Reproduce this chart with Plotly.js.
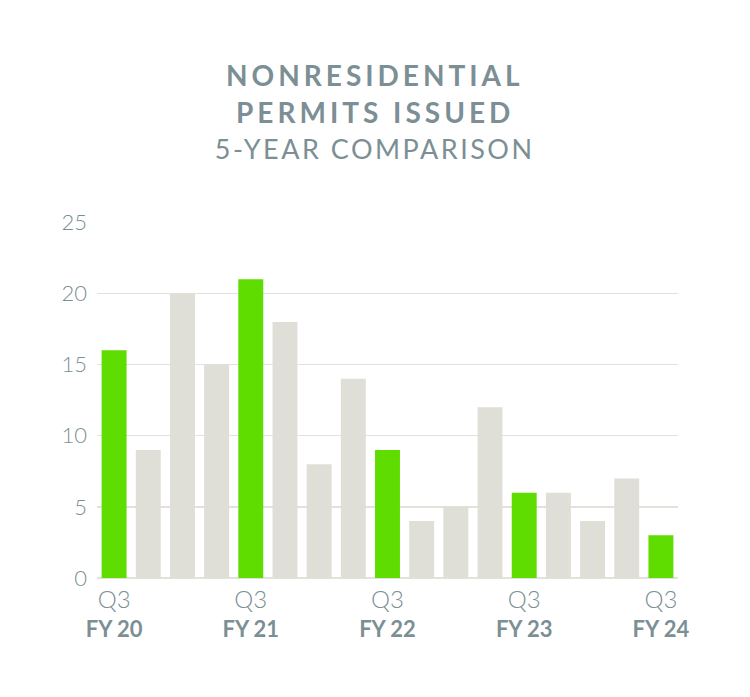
<!DOCTYPE html>
<html>
<head>
<meta charset="utf-8">
<script src="https://cdn.plot.ly/plotly-3.0.1.min.js"></script>
<style>html,body{margin:0;padding:0;background:#fff;}#chart{width:750px;height:697px;}</style>
</head>
<body>
<div id="chart"></div>
<script>
const quarters = ["Q3 FY20","Q4 FY20","Q1 FY21","Q2 FY21","Q3 FY21","Q4 FY21","Q1 FY22","Q2 FY22","Q3 FY22","Q4 FY22","Q1 FY23","Q2 FY23","Q3 FY23","Q4 FY23","Q1 FY24","Q2 FY24","Q3 FY24"];
const permits = [16, 9, 20, 15, 21, 18, 8, 14, 9, 4, 5, 12, 6, 6, 4, 7, 3];
const tickQuarters = ["Q3 FY20","Q3 FY21","Q3 FY22","Q3 FY23","Q3 FY24"];
const tickLabels = ["Q3<br><b>FY 20</b>","Q3<br><b>FY 21</b>","Q3<br><b>FY 22</b>","Q3<br><b>FY 23</b>","Q3<br><b>FY 24</b>"];
const titleLine1 = "NONRESIDENTIAL";
const titleLine2 = "PERMITS ISSUED";
const subtitle = "5-YEAR COMPARISON";

const GREEN = "#5fdc00", GRAY = "#dfdfd7", TEXT = "#7b8f94";
const colors = quarters.map(q => q.startsWith("Q3") ? GREEN : GRAY);

const trace = {
  type: "bar",
  x: quarters,
  y: permits,
  marker: {color: colors},
  hoverinfo: "x+y"
};

const FONT = "Lato, 'Open Sans', sans-serif";
const layout = {
  width: 750, height: 697,
  margin: {l: 97, r: 72, t: 222, b: 119},
  paper_bgcolor: "#ffffff",
  plot_bgcolor: "#ffffff",
  bargap: 0.27,
  showlegend: false,
  font: {family: FONT, color: TEXT},
  xaxis: {
    type: "category",
    tickmode: "array",
    tickvals: tickQuarters,
    ticktext: tickLabels.map(t => t.replace("Q3", "<span style='font-size:24px'>Q3</span>")),
    showgrid: false,
    zeroline: false,
    showline: false,
    ticks: "",
    ticklabelstandoff: 7,
    tickfont: {size: 22, color: TEXT, family: FONT, weight: 300}
  },
  yaxis: {
    range: [0, 25.02],
    tickvals: [0, 5, 10, 15, 20, 25],
    showgrid: true,
    gridcolor: "#e2e2db",
    gridwidth: 1.5,
    zeroline: true,
    zerolinecolor: "#e2e2db",
    zerolinewidth: 1.5,
    showline: false,
    ticks: "",
    ticklabelstandoff: 9,
    tickfont: {size: 22, color: TEXT, family: FONT, weight: 300}
  },
  annotations: [
    {text: "<b>" + titleLine1 + "</b>", xref: "paper", yref: "paper", x: 0.478, y: (578-75)/356, xanchor: "center", yanchor: "middle", showarrow: false, font: {size: 28, color: TEXT, family: FONT, weight: 900}},
    {text: "<b>" + titleLine2 + "</b>", xref: "paper", yref: "paper", x: 0.478, y: (578-112)/356, xanchor: "center", yanchor: "middle", showarrow: false, font: {size: 28, color: TEXT, family: FONT, weight: 900}},
    {text: subtitle, xref: "paper", yref: "paper", x: 0.478, y: (578-148)/356, xanchor: "center", yanchor: "middle", showarrow: false, font: {size: 27, color: TEXT, family: FONT, weight: 400}}
  ]
};

Plotly.newPlot("chart", [trace], layout, {displayModeBar: false, staticPlot: true}).then(() => {
  document.querySelectorAll(".annotation-text").forEach((t, i) => {
    t.style.letterSpacing = i < 2 ? "4px" : "2.5px";
    t.style.fontWeight = i < 2 ? "900" : "400";
  });
});
</script>
</body>
</html>
